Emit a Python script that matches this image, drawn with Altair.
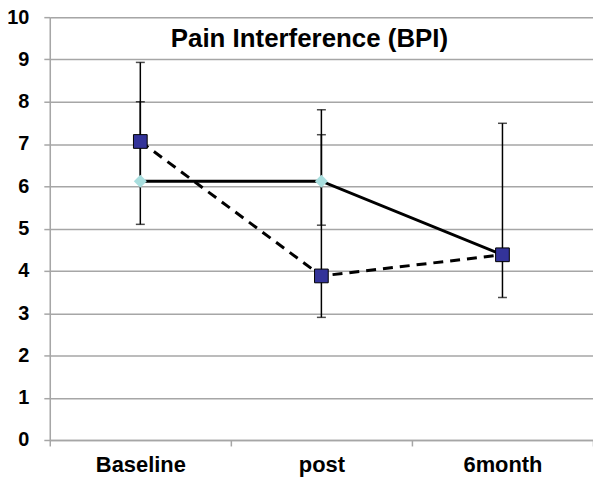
import altair as alt
import pandas as pd

categories = ["Baseline", "post", "6month"]
series_a = [7.06, 3.88, 4.38]   # squares, dashed line
series_b = [6.12, 6.12, 4.38]   # diamonds, solid line
err_a_low = [5.10, 2.90, 3.37]
err_a_high = [8.93, 7.81, 7.49]
err_b_cats = ["Baseline", "post"]
err_b_low = [6.12, 5.08]
err_b_high = [8.00, 7.22]
title_text = ["Pain Interference (BPI)"]

df_a = pd.DataFrame({"cat": categories, "value": series_a})
df_b = pd.DataFrame({"cat": categories, "value": series_b})
df_err = pd.DataFrame({
    "cat": categories + err_b_cats,
    "low": err_a_low + err_b_low,
    "high": err_a_high + err_b_high,
})
df_title = pd.DataFrame({"t": title_text})

FONT = "Liberation Sans"
GRAY = "#a6a6a6"

x_enc = alt.X(
    "cat:N", sort=categories,
    scale=alt.Scale(type="band", paddingInner=0, paddingOuter=0),
    axis=alt.Axis(title=None, labelAngle=0, tickBand="extent", grid=False,
                  domainColor=GRAY, domainWidth=1.5, tickColor=GRAY, tickWidth=1.5,
                  tickSize=6, labelFont=FONT, labelFontSize=22, labelFontWeight="bold",
                  labelColor="black", labelPadding=9),
)
y_scale = alt.Scale(domain=[0, 10], nice=False)
y_axis = alt.Axis(title=None, values=list(range(11)), grid=True, gridColor=GRAY, gridWidth=1.5,
                  domainColor=GRAY, domainWidth=1.5, tickColor=GRAY, tickWidth=1.5, tickSize=6,
                  labelFont=FONT, labelFontSize=20, labelFontWeight="bold", labelColor="black",
                  labelPadding=15)

rules = alt.Chart(df_err).mark_rule(color="black", strokeWidth=1.5).encode(
    x=x_enc, y=alt.Y("low:Q", scale=y_scale, axis=y_axis), y2="high:Q")
cap_low = alt.Chart(df_err).mark_tick(color="black", size=9, thickness=1.5).encode(
    x=x_enc, y=alt.Y("low:Q", scale=y_scale))
cap_high = alt.Chart(df_err).mark_tick(color="black", size=9, thickness=1.5).encode(
    x=x_enc, y=alt.Y("high:Q", scale=y_scale))

line_b = alt.Chart(df_b).mark_line(color="black", strokeWidth=3).encode(
    x=x_enc, y=alt.Y("value:Q", scale=y_scale))
line_a = alt.Chart(df_a).mark_line(color="black", strokeWidth=3, strokeDash=[10, 7]).encode(
    x=x_enc, y=alt.Y("value:Q", scale=y_scale))
pts_b = alt.Chart(df_b).mark_point(shape="diamond", filled=True, size=170, color="#a8dede",
                                   opacity=1).encode(
    x=x_enc, y=alt.Y("value:Q", scale=y_scale))
pts_a = alt.Chart(df_a).mark_point(shape="square", filled=True, size=190, fill="#333399",
                                   stroke="black", strokeWidth=1, opacity=1).encode(
    x=x_enc, y=alt.Y("value:Q", scale=y_scale))

title = alt.Chart(df_title).mark_text(font=FONT, fontSize=26, fontWeight="bold", color="black",
                                      align="center", baseline="alphabetic").encode(
    text="t:N", x=alt.value(261), y=alt.value(30))

chart = alt.layer(rules, cap_low, cap_high, line_b, line_a, pts_b, pts_a, title).properties(
    width=546, height=425,
    autosize=alt.AutoSizeParams(type="none"),
    padding={"left": 42, "top": 8, "right": 0, "bottom": 38},
).configure_view(stroke=None).configure(background="white")

chart.save("out.html", embed_options={"renderer": "svg", "actions": False})
